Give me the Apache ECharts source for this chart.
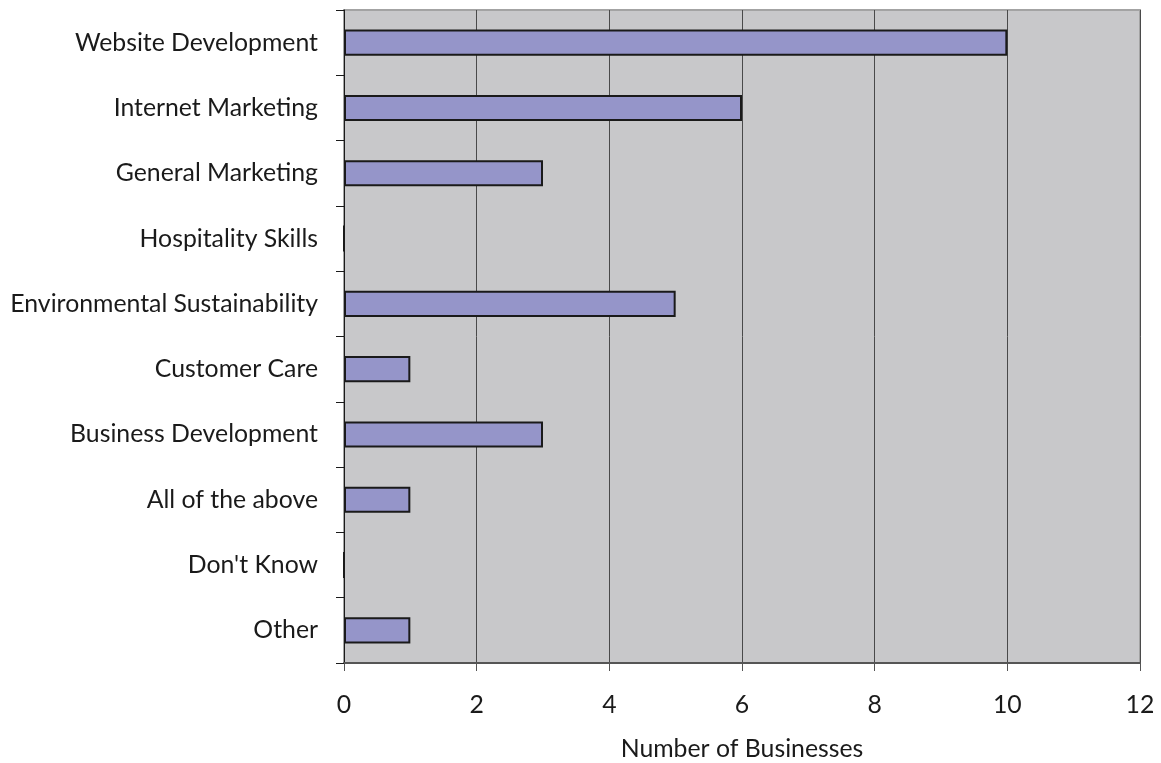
<!DOCTYPE html>
<html>
<head>
<meta charset="utf-8">
<script src="https://cdn.jsdelivr.net/npm/echarts@6/dist/echarts.min.js"></script>
<style>
  html, body { margin: 0; padding: 0; background: #ffffff; }
  #chart { width: 1161px; height: 763px; }
</style>
</head>
<body>
<div id="chart"></div>
<script>
// Training areas requested, top to bottom
const categories = [
  'Website Development',
  'Internet Marketing',
  'General Marketing',
  'Hospitality Skills',
  'Environmental Sustainability',
  'Customer Care',
  'Business Development',
  'All of the above',
  "Don't Know",
  'Other'
];
// Number of businesses per area
const businessCounts = [10, 6, 3, 0, 5, 1, 3, 1, 0, 1];
// Horizontal axis ticks
const xTicks = [0, 2, 4, 6, 8, 10, 12];

const FONT = 'Lato, "Open Sans", sans-serif';
const FONT_SIZE = 24.8;

const chart = echarts.init(document.getElementById('chart'), null, { renderer: 'canvas' });
chart.setOption({
  animation: false,
  backgroundColor: '#ffffff',
  grid: {
    left: 344, right: 21, top: 10, bottom: 100,
    outerBoundsMode: 'none',
    containLabel: false,
    show: true,
    backgroundColor: '#c8c8ca',
    borderColor: '#a3a3a3',
    borderWidth: 2
  },
  xAxis: {
    type: 'value',
    min: xTicks[0],
    max: xTicks[xTicks.length - 1],
    interval: 2,
    name: 'Number of Businesses',
    nameLocation: 'middle',
    nameGap: 74,
    nameTextStyle: { fontFamily: FONT, fontSize: FONT_SIZE, color: '#1a1a1a' },
    axisLine: { show: true, lineStyle: { color: '#555555', width: 2 } },
    axisTick: { show: true, length: 8, lineStyle: { color: '#555555', width: 1 } },
    axisLabel: { margin: 30, fontFamily: FONT, fontSize: FONT_SIZE, color: '#1a1a1a' },
    splitLine: { show: true, lineStyle: { color: '#4a4a4a', width: 1 } }
  },
  yAxis: {
    type: 'category',
    data: categories,
    inverse: true,
    axisLine: { show: true, lineStyle: { color: '#1a1a1a', width: 1 } },
    axisTick: { show: true, length: 8, alignWithLabel: false, lineStyle: { color: '#1a1a1a', width: 1 } },
    axisLabel: { margin: 26, padding: [4, 0, 0, 0], fontFamily: FONT, fontSize: FONT_SIZE, color: '#1a1a1a' },
    splitLine: { show: false }
  },
  series: [{
    type: 'bar',
    data: businessCounts,
    barWidth: '40%',
    itemStyle: { color: '#9595c9', borderColor: '#1a1a1a', borderWidth: 2 },
    silent: true
  }]
});
</script>
</body>
</html>
